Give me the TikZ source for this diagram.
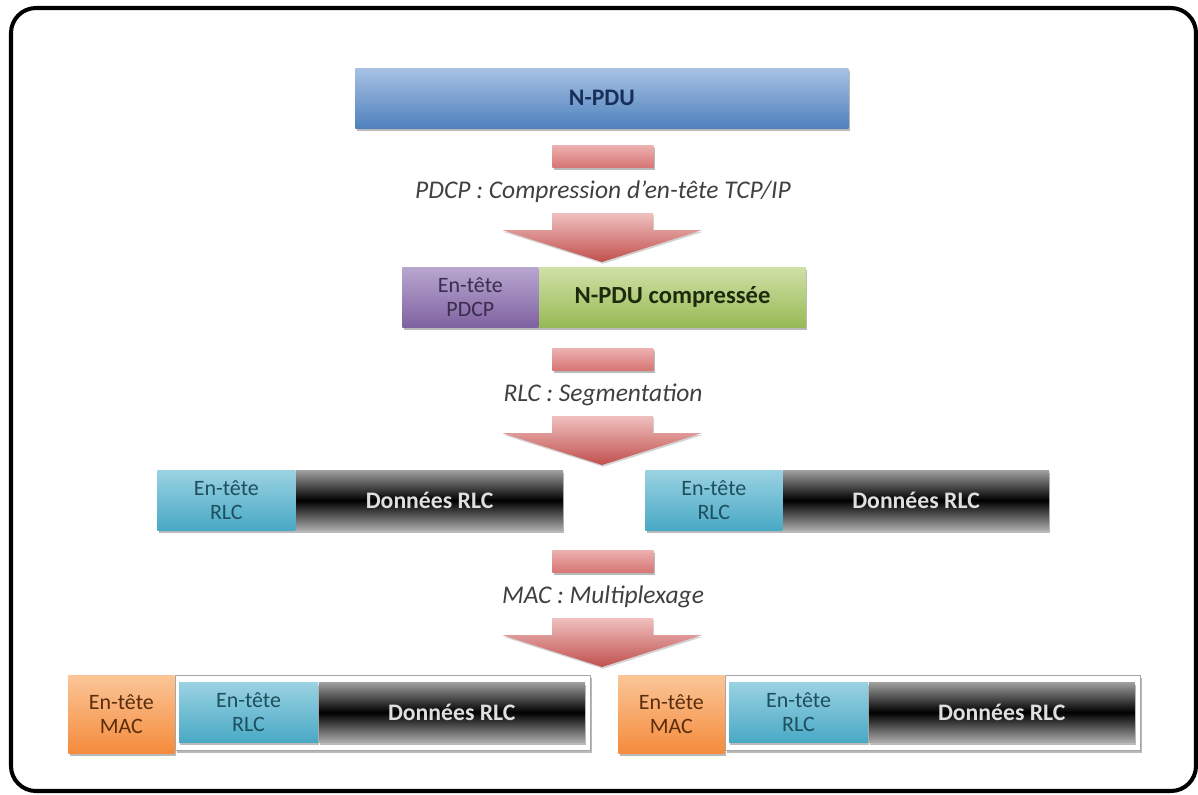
\documentclass[tikz,border=0pt]{standalone}
\usepackage{fontspec}
\setmainfont{Carlito}
\usetikzlibrary{shadows}
\definecolor{npdutop}{HTML}{A7C1E3}
\definecolor{npdubot}{HTML}{4F81BD}
\definecolor{pdcptop}{HTML}{B8A6CF}
\definecolor{pdcpbot}{HTML}{7F62A1}
\definecolor{comptop}{HTML}{CFE0A6}
\definecolor{compbot}{HTML}{98BA55}
\definecolor{rlctop}{HTML}{9AD2E2}
\definecolor{rlcbot}{HTML}{48A9C5}
\definecolor{mactop}{HTML}{FBC597}
\definecolor{macbot}{HTML}{F58B3C}
\definecolor{arrtop}{HTML}{F0C0BF}
\definecolor{arrbot}{HTML}{C0504D}
\definecolor{bartop}{HTML}{EDB0B0}
\definecolor{barbot}{HTML}{D67674}
\definecolor{rlctxt}{HTML}{1E4F5E}
\definecolor{pdcptxt}{HTML}{3A2D4F}
\definecolor{mactxt}{HTML}{5A2D0C}
\definecolor{comptxt}{HTML}{1E2A0C}
\definecolor{npdutxt}{HTML}{17305A}
\tikzset{
  blk/.style={anchor=north west, inner sep=0pt, align=center,
    drop shadow={shadow xshift=0.8pt, shadow yshift=-1.4pt, opacity=.55}},
  sz/.style 2 args={minimum width=#1*\pxl, minimum height=#2*\pxl},
  npdubox/.style={blk, top color=npdutop, bottom color=npdubot, text=npdutxt,
    font=\fontsize{13.5}{16}\selectfont\bfseries},
  pdcpbox/.style={blk, top color=pdcptop, bottom color=pdcpbot, text=pdcptxt,
    font=\fontsize{12.5}{14}\selectfont},
  compbox/.style={blk, top color=comptop, bottom color=compbot, text=comptxt,
    font=\fontsize{14}{16}\selectfont\bfseries},
  rlcbox/.style={blk, top color=rlctop, bottom color=rlcbot, text=rlctxt,
    font=\fontsize{12.5}{14}\selectfont},
  databox/.style={blk, top color=gray!75, bottom color=gray!65, middle color=black,
    text=gray!25, font=\fontsize{13.5}{16}\selectfont\bfseries},
  macbox/.style={blk, top color=mactop, bottom color=macbot, text=mactxt,
    font=\fontsize{12.5}{14}\selectfont},
  framebox/.style={blk, fill=white, draw=gray!70, line width=.8pt},
  barbox/.style={blk, top color=bartop, bottom color=barbot},
  steplabel/.style={text=black!75, font=\fontsize{14.5}{17}\selectfont\itshape}
}
\begin{document}
\begin{tikzpicture}[x=0.02cm, y=-0.02cm, line join=round, line cap=round]
  \def\pxl{0.02cm}
  \useasboundingbox (0,0) rectangle (1198,795);
  \draw[line width=2.3pt, rounded corners=0.5cm] (11,8) rectangle (1196,791);
  % paquet de depart
  \node[npdubox, sz={493}{60}] (npdu) at (355,68) {N-PDU};
  % PDCP
  \node[pdcpbox, sz={136}{60}] (pdcphdr) at (402,267) {En-tête\\PDCP};
  \node[compbox, sz={267}{60}] (comp) at (pdcphdr.north east) {N-PDU compressée};
  % RLC
  \node[rlcbox, sz={138}{60}] (rlchdrA) at (157,470) {En-tête\\RLC};
  \node[databox, sz={267}{60}] (dataA) at (rlchdrA.north east) {Données RLC};
  \node[rlcbox, sz={137}{60}] (rlchdrB) at (645,470) {En-tête\\RLC};
  \node[databox, sz={266}{60}] (dataB) at (rlchdrB.north east) {Données RLC};
  % MAC
  \foreach \x/\n in {68/A, 618/B}{
    \node[macbox, sz={106}{78}] (machdr\n) at (\x,675) {En-tête\\MAC};
    \node[framebox, sz={415}{75}] (mframe\n) at (machdr\n.north east) {};
    \node[rlcbox, sz={139}{60}] (mrlchdr\n) at ([shift={(4,7)}]mframe\n.north west) {En-tête\\RLC};
    \node[databox, sz={266}{60}] (mdata\n) at (mrlchdr\n.north east) {Données RLC};
  }
  % fleches
  \foreach \y/\txt in {145/{PDCP : Compression d’en-tête TCP/IP}, 348/{RLC : Segmentation}, 550/{MAC : Multiplexage}}{
    \node[barbox, sz={101}{22}] (bar\y) at (552,\y) {};
    \node[steplabel] (lbl\y) at (603,\y+47) {\txt};
    \shade[top color=arrtop, bottom color=arrbot,
      drop shadow={shadow xshift=0.6pt, shadow yshift=-1pt, opacity=.35}]
      (552,\y+68) -- (653,\y+68) -- (653,\y+85) -- (702,\y+85) -- (602,\y+117)
      -- (502,\y+85) -- (552,\y+85) -- cycle;
  }
\end{tikzpicture}
\end{document}
